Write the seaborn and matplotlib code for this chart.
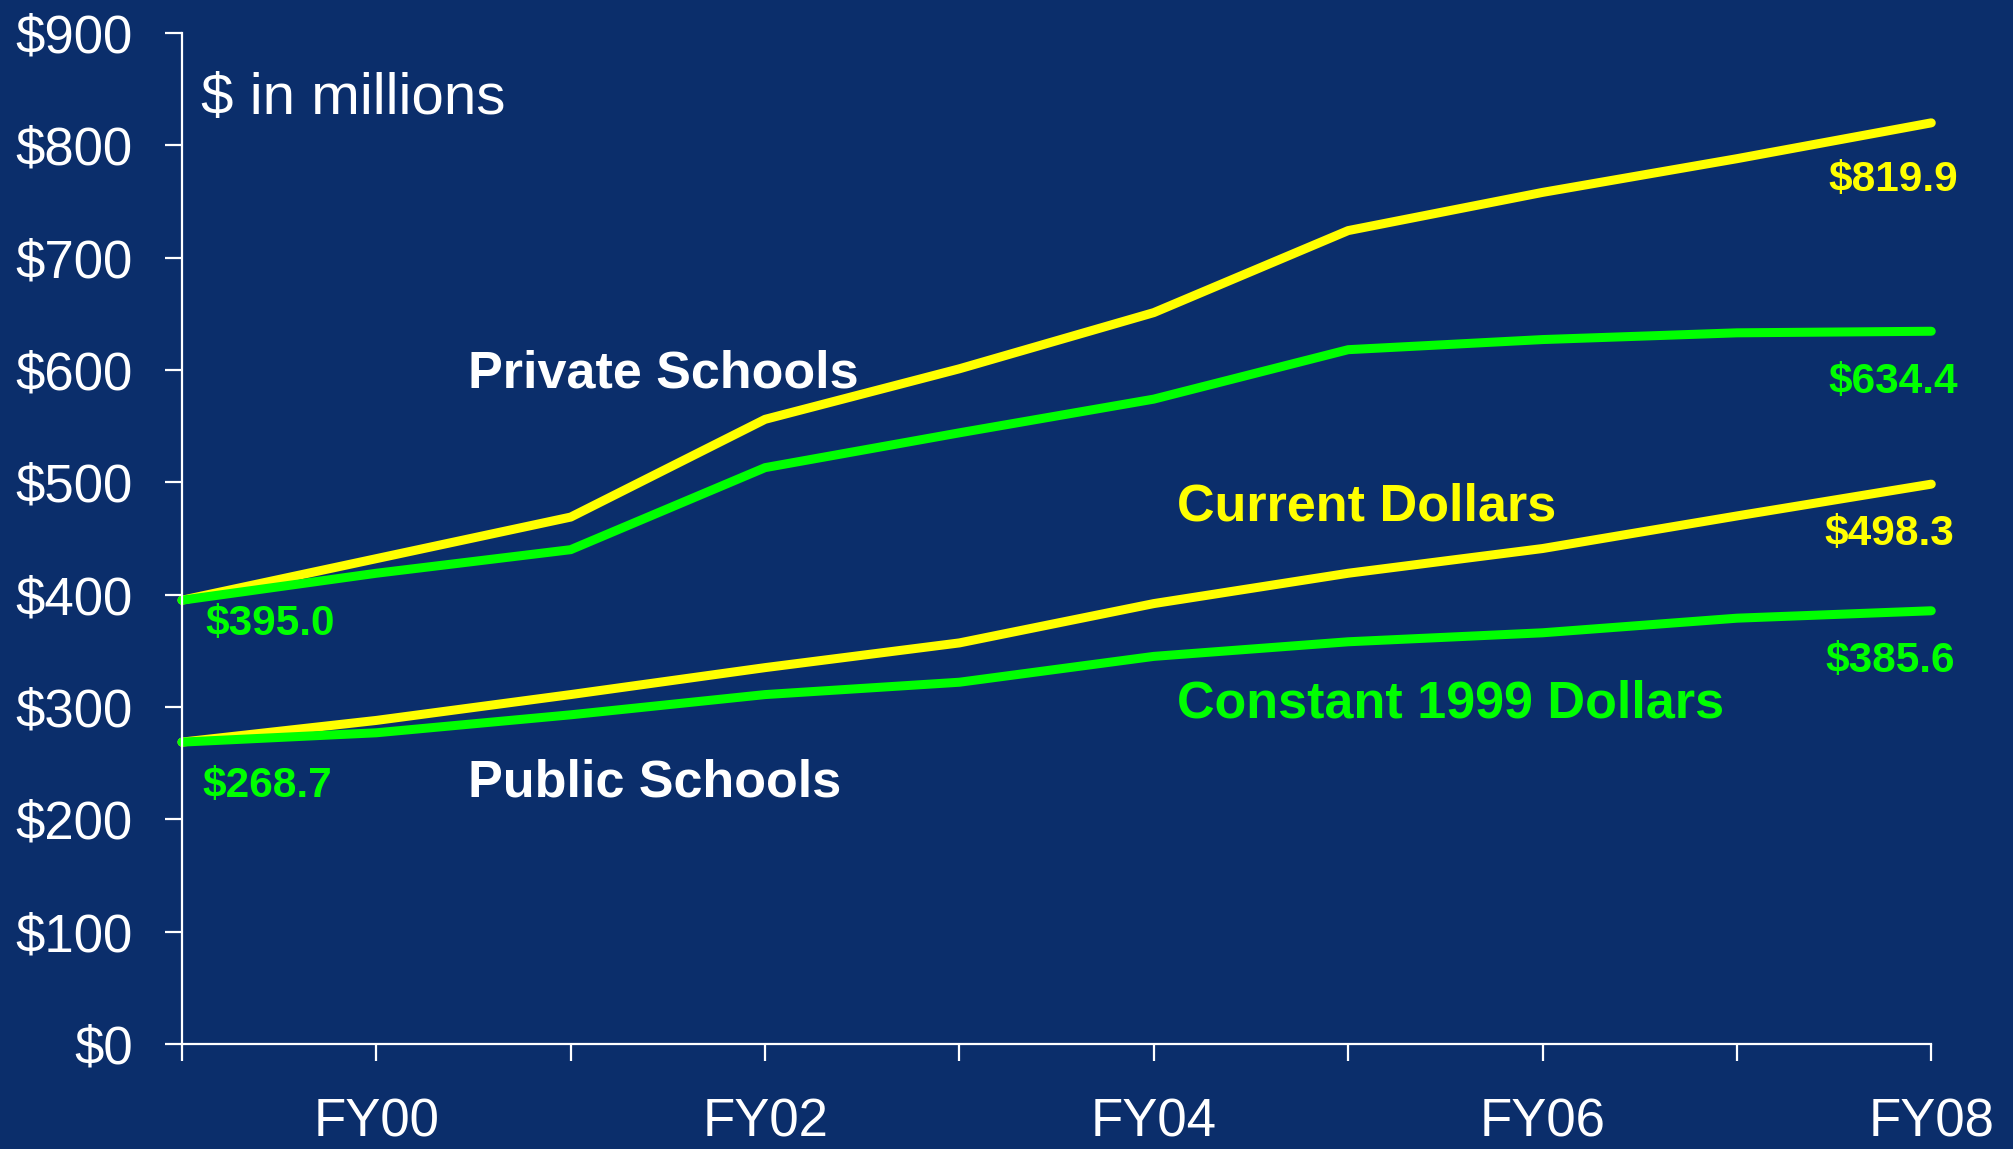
import numpy as np
import pandas as pd
import seaborn as sns
import matplotlib.pyplot as plt

# fiscal years FY99..FY08, $ in millions
years = ['FY99', 'FY00', 'FY01', 'FY02', 'FY03', 'FY04', 'FY05', 'FY06', 'FY07', 'FY08']
private_current = [395.0, 432, 469, 556, 601, 651, 724, 758, 788, 819.9]
private_constant = [395.0, 419, 440, 513, 544, 574, 618, 627, 633, 634.4]
public_current = [268.7, 288, 311, 335, 357, 392, 419, 441, 470, 498.3]
public_constant = [268.7, 277, 293, 311, 322, 345, 358, 366, 379, 385.6]
y_ticks = [0, 100, 200, 300, 400, 500, 600, 700, 800, 900]

bg = '#0B2E6B'
yellow = '#FFFF00'
green = '#00FF00'

sns.set_style('white')
plt.rcParams['font.family'] = ['Liberation Sans', 'DejaVu Sans']

idx = np.arange(len(years))
df = pd.DataFrame({
    'x': np.tile(idx, 4),
    'value': private_current + private_constant + public_current + public_constant,
    'series': (['pc'] * 10 + ['pk'] * 10 + ['uc'] * 10 + ['uk'] * 10),
})
palette = {'pc': yellow, 'pk': green, 'uc': yellow, 'uk': green}

fig = plt.figure(figsize=(20.13, 11.49), dpi=100, facecolor=bg)
ax = fig.add_axes([0.0904, 0.0914, 0.869, 0.880])
ax.set_facecolor(bg)

sns.lineplot(data=df, x='x', y='value', hue='series', palette=palette,
             legend=False, ax=ax)
for line in ax.lines:
    line.set_linewidth(6.5)
    line.set_solid_capstyle('round')
    line.set_solid_joinstyle('round')
    line.set_clip_on(False)

ax.set_xlim(0, 9)
ax.set_ylim(0, 900)
ax.set_xticks(idx)
ax.set_xticklabels([y if i % 2 == 1 else '' for i, y in enumerate(years)])
ax.set_yticks(y_ticks)
ax.set_yticklabels(['$' + str(v) for v in y_ticks])
ax.set_xlabel('')
ax.set_ylabel('')

for side in ['top', 'right']:
    ax.spines[side].set_visible(False)
for side in ['left', 'bottom']:
    ax.spines[side].set_color('white')
    ax.spines[side].set_linewidth(1.6)
ax.tick_params(axis='both', colors='white', direction='out', length=12, width=1.6,
               labelsize=38, bottom=True, left=True)
ax.tick_params(axis='x', pad=26.5)
ax.tick_params(axis='y', pad=23.5)

ax.text(0.011, 0.935, '$ in millions', transform=ax.transAxes, color='white',
        fontsize=42, va='center', ha='left')
ax.text(1.474, 596, 'Private Schools', color='white', fontsize=37.5, fontweight='bold', va='center')
ax.text(1.474, 232, 'Public Schools', color='white', fontsize=37.5, fontweight='bold', va='center')
ax.text(5.12, 478, 'Current Dollars', color=yellow, fontsize=37.5, fontweight='bold', va='center')
ax.text(5.12, 303, 'Constant 1999 Dollars', color=green, fontsize=37.5, fontweight='bold', va='center')

ax.text(0.119, 374, '$395.0', color=green, fontsize=30.5, fontweight='bold', va='center')
ax.text(0.106, 230, '$268.7', color=green, fontsize=30.5, fontweight='bold', va='center')
ax.text(9.14, 769, '$819.9', color=yellow, fontsize=30.5, fontweight='bold', va='center', ha='right')
ax.text(9.14, 589, '$634.4', color=green, fontsize=30.5, fontweight='bold', va='center', ha='right')
ax.text(9.12, 454, '$498.3', color=yellow, fontsize=30.5, fontweight='bold', va='center', ha='right')
ax.text(9.12, 341, '$385.6', color=green, fontsize=30.5, fontweight='bold', va='center', ha='right')

fig.savefig('out.png', dpi=100, facecolor=bg)
